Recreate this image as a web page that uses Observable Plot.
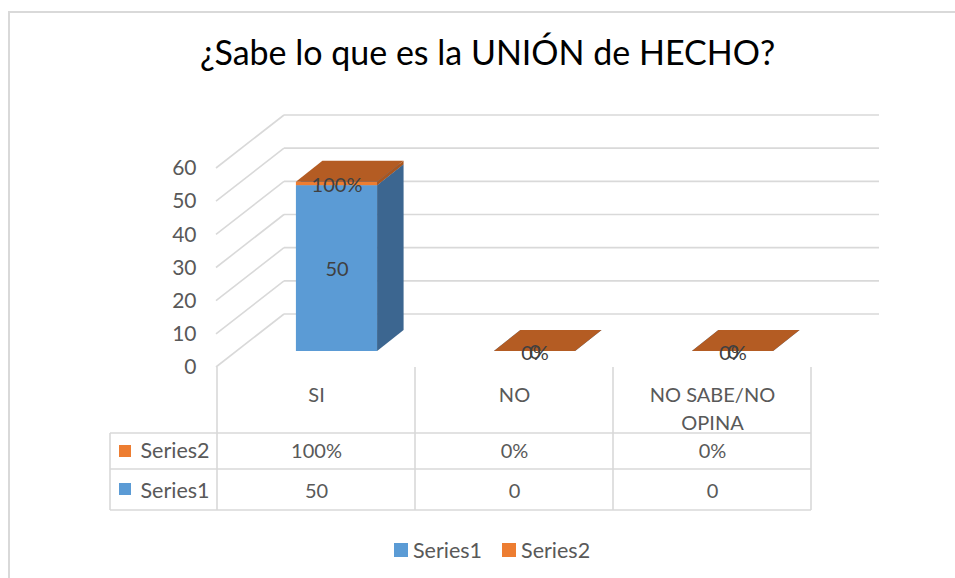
<!DOCTYPE html>
<html><head><meta charset="utf-8">
<script src="https://cdn.jsdelivr.net/npm/d3@7"></script>
<script src="https://cdn.jsdelivr.net/npm/@observablehq/plot@0.6"></script>
<style>
body{margin:0;background:#fff;overflow:hidden;}
#wrap{position:relative;width:955px;height:578px;overflow:hidden;font-family:Lato,sans-serif;}
#frame{position:absolute;left:8px;top:11px;width:1000px;height:1000px;border:2px solid #d9d9d9;box-sizing:border-box;}
#title{position:absolute;left:0;top:32px;width:975px;text-align:center;font-size:34px;color:#000;line-height:40px;}
#plot{position:absolute;left:0;top:100px;}
#legend{position:absolute;left:394px;top:537px;display:flex;align-items:center;font-size:21.5px;color:#595959;}
#legend .sw{display:inline-block;width:14px;height:14px;margin-right:5px;}
#legend .item{display:flex;align-items:center;margin-right:20px;}
</style></head>
<body><div id="wrap"><div id="frame"></div><div id="title">¿Sabe lo que es la UNIÓN de HECHO?</div><div id="plot"></div><div id="legend"></div></div>
<script>
const categories = ["SI", "NO", "NO SABE/NO OPINA"];
const categoryLabels = ["SI", "NO", "NO SABE/NO\nOPINA"];
const seriesNames = ["Series1", "Series2"];
const series1 = [50, 0, 0];
const series2 = [1, 0, 0];            // 100%, 0%, 0% drawn as 1, 0, 0
const series1Labels = ["50", "0", "0"];
const series2Labels = ["100%", "0%", "0%"];
const yTicks = [0, 10, 20, 30, 40, 50, 60];

const rows = categories.map((c, i) => ({cat: c, label: categoryLabels[i], s1: series1[i], s2: series2[i], l1: series1Labels[i], l2: series2Labels[i]}));
const segments = [];
rows.forEach(r => {
  segments.push({cat: r.cat, series: "Series1", y1: 0, y2: r.s1});
  segments.push({cat: r.cat, series: "Series2", y1: r.s1, y2: r.s1 + r.s2});
});

// styling / 3D projection constants (pixels)
const W = 955, H = 420;
const wallDX = 68, wallDY = -53;
const barOffDX = 20.5, barOffDY = -16;
const barDX = 26.5, barDY = -21, barFrac = 0.41;
const gridColor = "#d9d9d9";
const textColor = "#595959";
const FS = 20;
const colors = {
  Series1: {front: "#5B9BD5", side: "#3C6690", top: "#4A80B2"},
  Series2: {front: "#ED7D31", side: "#A9561F", top: "#B45C23"}
};

function el(tag, attrs) {
  const e = document.createElementNS("http://www.w3.org/2000/svg", tag);
  for (const k in attrs) e.setAttribute(k, attrs[k]);
  return e;
}
function bandwidth(x) {
  return x.bandwidth ? x.bandwidth() : x(categories[1]) - x(categories[0]);
}
const pts = a => a.map(p => p.join(",")).join(" ");

const walls = Plot.ruleY(yTicks, {
  render: (index, scales, values, dims) => {
    const g = el("g", {stroke: gridColor, "stroke-width": 1.6, fill: "none"});
    const x0 = dims.marginLeft, x1 = dims.width - dims.marginRight;
    for (const i of index) {
      const y = scales.y(yTicks[i]);
      g.append(el("line", {x1: x0, y1: y, x2: x0 + wallDX, y2: y + wallDY}));
      g.append(el("line", {x1: x0 + wallDX, y1: y + wallDY, x2: x1 + wallDX, y2: y + wallDY}));
    }
    return g;
  }
});

const bars = Plot.barY(segments, {
  x: "cat", y1: "y1", y2: "y2",
  render: (index, scales) => {
    const g = el("g", {});
    const bw = bandwidth(scales.x);
    const w = bw * barFrac;
    for (const i of index) {
      const s = segments[i];
      const c = colors[s.series];
      const xl = scales.x(s.cat) + bw / 2 - w / 2 + barOffDX, xr = xl + w;
      const yb = scales.y(s.y1) + barOffDY, yt = scales.y(s.y2) + barOffDY;
      if (yb - yt > 0) {
        g.append(el("rect", {x: xl, y: yt, width: w, height: yb - yt, fill: c.front}));
        g.append(el("polygon", {points: pts([[xr, yb], [xr + barDX, yb + barDY], [xr + barDX, yt + barDY], [xr, yt]]), fill: c.side}));
      }
      g.append(el("polygon", {points: pts([[xl, yt], [xr, yt], [xr + barDX, yt + barDY], [xl + barDX, yt + barDY]]), fill: c.top}));
    }
    return g;
  }
});

const table = Plot.ruleY([0], {
  render: (index, scales, values, dims) => {
    const g = el("g", {stroke: gridColor, "stroke-width": 1.6, fill: "none"});
    const bw = bandwidth(scales.x);
    const y0 = scales.y(0);
    const left = dims.marginLeft - 106;
    const xs = categories.map(c => scales.x(c)).concat([scales.x(categories[categories.length - 1]) + bw]);
    const rowY = [y0 + 66, y0 + 102, y0 + 143];
    for (const x of xs) g.append(el("line", {x1: x, y1: y0, x2: x, y2: rowY[2]}));
    g.append(el("line", {x1: left, y1: rowY[0], x2: left, y2: rowY[2]}));
    for (const y of rowY) g.append(el("line", {x1: left, y1: y, x2: xs[xs.length - 1], y2: y}));
    // legend keys in table
    const keys = [["Series2", rowY[0] + 18], ["Series1", rowY[1] + 20]];
    for (const [s, cy] of keys) g.append(el("rect", {x: left + 9, y: cy - 6, width: 12, height: 12, fill: colors[s].front, stroke: "none"}));
    return g;
  }
});

const txt = {fill: textColor, fontSize: FS, fontFamily: "Lato, sans-serif"};

const plot = Plot.plot({
  width: W, height: H,
  marginLeft: 216, marginRight: 144, marginTop: 68, marginBottom: 153,
  x: {type: "band", domain: categories, padding: 0, axis: null},
  y: {domain: [0, 60], axis: null},
  style: {background: "transparent", color: textColor, fontFamily: "Lato, sans-serif"},
  marks: [
    walls,
    bars,
    Plot.text(rows, {x: "cat", y: d => d.s1 / 2, text: "l1", dx: barOffDX, dy: barOffDY + 1, ...txt, fill: "#404040"}),
    Plot.text(rows, {x: "cat", y: d => d.s1 + d.s2 / 2, text: "l2", dx: barOffDX, dy: barOffDY + 2, ...txt, fill: "#404040"}),
    table,
    Plot.text(rows, {x: "cat", y: 0, text: "label", dy: 15, lineAnchor: "top", lineHeight: 1.4, ...txt}),
    Plot.text(rows, {x: "cat", y: 0, text: "l2", dy: 84, ...txt}),
    Plot.text(rows, {x: "cat", y: 0, text: "l1", dy: 124, ...txt}),
    Plot.text([seriesNames[1]], {frameAnchor: "left", y: 0, text: d => d, dx: -76, dy: 84, textAnchor: "start", ...txt, fontSize: 21.5}),
    Plot.text([seriesNames[0]], {frameAnchor: "left", y: 0, text: d => d, dx: -76, dy: 124, textAnchor: "start", ...txt, fontSize: 21.5}),
    Plot.axisY(yTicks, {tickSize: 0, tickPadding: 20, fontSize: 21, fill: textColor, label: null})
  ]
});
document.getElementById("plot").append(plot);

const legend = document.getElementById("legend");
for (const s of seriesNames) {
  const item = document.createElement("span");
  item.className = "item";
  const sw = document.createElement("span");
  sw.className = "sw";
  sw.style.background = colors[s].front;
  item.append(sw, document.createTextNode(s));
  legend.append(item);
}
</script></body></html>
